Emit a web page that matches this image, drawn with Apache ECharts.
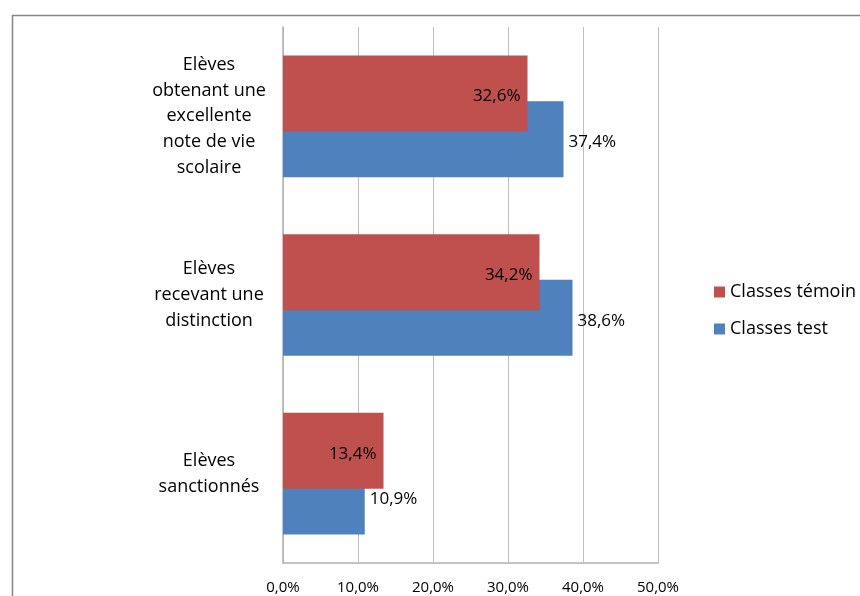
<!DOCTYPE html>
<html>
<head>
<meta charset="utf-8">
<script src="https://cdn.jsdelivr.net/npm/echarts@6/dist/echarts.min.js"></script>
<style>
  html, body { margin: 0; padding: 0; background: #fff; }
  #chart { width: 860px; height: 596px; }
</style>
</head>
<body>
<div id="chart"></div>
<script>
const categories = [
  'Elèves\nsanctionnés',
  'Elèves\nrecevant une\ndistinction',
  'Elèves\nobtenant une\nexcellente\nnote de vie\nscolaire'
];
const seriesNames = ['Classes témoin', 'Classes test'];
const temoinValues = [13.4, 34.2, 32.6];
const testValues = [10.9, 38.6, 37.4];
const xTicks = [0, 10, 20, 30, 40, 50];

const FONT = '"Open Sans", "Noto Sans", sans-serif';
const fmt = v => v.toFixed(1).replace('.', ',') + '%';

const chart = echarts.init(document.getElementById('chart'), null, { renderer: 'canvas' });
chart.setOption({
  animation: false,
  textStyle: { fontFamily: FONT, color: '#000' },
  graphic: [{
    type: 'rect',
    left: 10, top: 13,
    shape: { width: 900, height: 700 },
    style: { fill: 'none', stroke: '#868686', lineWidth: 1.5 },
    silent: true
  }],
  grid: { left: 283, right: 202, top: 27, bottom: 33, containLabel: false },
  legend: {
    orient: 'vertical',
    left: 709,
    top: 277,
    itemWidth: 11,
    itemHeight: 11,
    itemGap: 17,
    icon: 'rect',
    data: [seriesNames[0], seriesNames[1]],
    textStyle: { fontFamily: FONT, fontSize: 18, color: '#000', lineHeight: 20 }
  },
  xAxis: {
    type: 'value',
    min: xTicks[0],
    max: xTicks[xTicks.length - 1],
    interval: xTicks[1] - xTicks[0],
    axisLine: { show: true, lineStyle: { color: '#B0B0B0', width: 1.5 } },
    axisTick: { show: false },
    splitLine: { show: true, lineStyle: { color: '#BEBEBE', width: 1 } },
    axisLabel: { formatter: v => fmt(v), fontSize: 15, color: '#000', margin: 17, fontFamily: FONT }
  },
  yAxis: {
    type: 'category',
    data: categories,
    axisLine: { show: true, lineStyle: { color: '#B0B0B0', width: 1.5 } },
    axisTick: { show: false },
    splitLine: { show: false },
    axisLabel: {
      align: 'center',
      margin: 74,
      fontSize: 18,
      lineHeight: 25.7,
      color: '#000',
      fontFamily: FONT
    }
  },
  series: [
    {
      name: seriesNames[0],
      type: 'bar',
      z: 3,
      data: temoinValues,
      barWidth: 76,
      barGap: '-40%',
      itemStyle: { color: '#C0504D' },
      label: {
        show: true, position: 'insideRight', distance: 7, offset: [0, 3],
        formatter: p => fmt(p.value), fontSize: 17, color: '#000', fontFamily: FONT
      }
    },
    {
      name: seriesNames[1],
      type: 'bar',
      z: 2,
      data: testValues,
      barWidth: 76,
      barGap: '-40%',
      itemStyle: { color: '#4F81BD' },
      label: {
        show: true, position: 'right', distance: 5, offset: [0, 3],
        formatter: p => fmt(p.value), fontSize: 17, color: '#000', fontFamily: FONT
      }
    }
  ]
});
</script>
</body>
</html>
